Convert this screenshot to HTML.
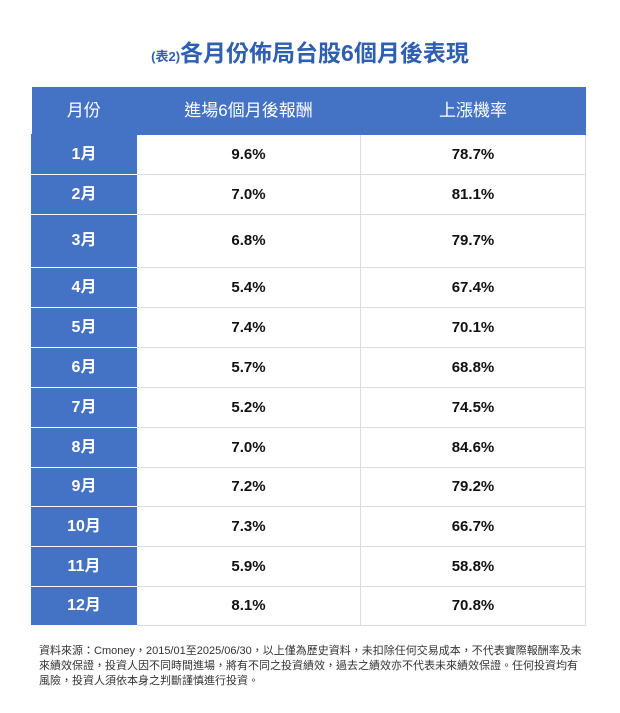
<!DOCTYPE html>
<html><head><meta charset="utf-8"><style>
body{margin:0;width:620px;height:713px;background:#fff;font-family:"Liberation Sans","Noto Sans CJK TC",sans-serif;position:relative;overflow:hidden}
.t{position:absolute;top:34px;left:0;width:620px;text-align:center;font-size:23px;font-weight:bold;color:#2f5fb0}
.t small{font-size:13px}
table{position:absolute;left:31px;top:87px;border-collapse:collapse;width:554px;table-layout:fixed}
td{text-align:center;vertical-align:middle;line-height:18px;font-weight:bold;font-size:15px;color:#111;border:1px solid #d8dde4;padding:0}
td.m{background:#4472c4;color:#fff;border-color:#4472c4;border-bottom:1px solid #fff;font-size:16px}
tr.h td{background:#4472c4;color:#fff;border-color:#4472c4;border-left:1px solid #8fa9dc;font-weight:normal;font-size:17px;height:46px}
tr.h td:first-child{border-left:none}
.n{position:absolute;left:39px;top:644px;width:543px;font-size:11px;line-height:15px;color:#333}
</style></head><body>
<div class="t"><small>(表2)</small>各月份佈局台股6個月後表現</div>
<table>
<colgroup><col style="width:105px"><col style="width:224px"><col style="width:225px"></colgroup>
<tr class="h"><td>月份</td><td>進場6個月後報酬</td><td>上漲機率</td></tr>
<tr style="height:40px"><td class="m">1月</td><td>9.6%</td><td>78.7%</td></tr>
<tr style="height:40px"><td class="m">2月</td><td>7.0%</td><td>81.1%</td></tr>
<tr style="height:53px"><td class="m">3月</td><td>6.8%</td><td>79.7%</td></tr>
<tr style="height:40px"><td class="m">4月</td><td>5.4%</td><td>67.4%</td></tr>
<tr style="height:40px"><td class="m">5月</td><td>7.4%</td><td>70.1%</td></tr>
<tr style="height:40px"><td class="m">6月</td><td>5.7%</td><td>68.8%</td></tr>
<tr style="height:40px"><td class="m">7月</td><td>5.2%</td><td>74.5%</td></tr>
<tr style="height:40px"><td class="m">8月</td><td>7.0%</td><td>84.6%</td></tr>
<tr style="height:39px"><td class="m">9月</td><td>7.2%</td><td>79.2%</td></tr>
<tr style="height:40px"><td class="m">10月</td><td>7.3%</td><td>66.7%</td></tr>
<tr style="height:40px"><td class="m">11月</td><td>5.9%</td><td>58.8%</td></tr>
<tr style="height:39px"><td class="m">12月</td><td>8.1%</td><td>70.8%</td></tr>
</table>
<div class="n">資料來源：Cmoney，2015/01至2025/06/30，以上僅為歷史資料，未扣除任何交易成本，不代表實際報酬率及未來績效保證，投資人因不同時間進場，將有不同之投資績效，過去之績效亦不代表未來績效保證。任何投資均有<br>風險，投資人須依本身之判斷謹慎進行投資。</div>
</body></html>
